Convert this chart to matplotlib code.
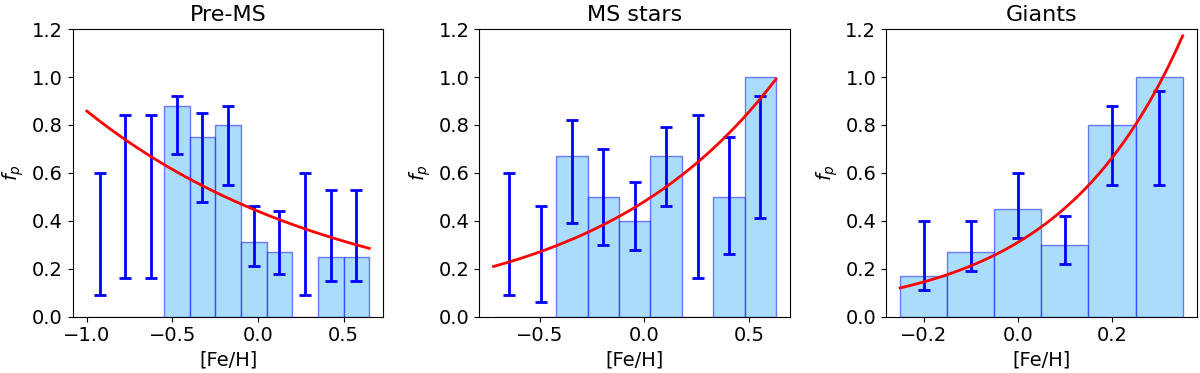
import numpy as np
import matplotlib.pyplot as plt
from matplotlib.colors import to_rgba

# Pre-MS
pms_edges = [-1.0, -0.85, -0.7, -0.55, -0.4, -0.25, -0.1, 0.05, 0.2, 0.35, 0.5, 0.65]
pms_frac = [0, 0, 0, 0.88, 0.75, 0.80, 0.31, 0.27, 0, 0.25, 0.25]
pms_lo = [0.09, 0.16, 0.16, 0.68, 0.48, 0.55, 0.21, 0.18, 0.09, 0.15, 0.15]
pms_hi = [0.60, 0.84, 0.84, 0.92, 0.85, 0.88, 0.46, 0.44, 0.60, 0.53, 0.53]
pms_fit = (0.44, -0.29)   # C, beta in f = C * 10**(beta*[Fe/H])

# MS stars
ms_edges = [-0.72, -0.57, -0.42, -0.27, -0.12, 0.03, 0.18, 0.33, 0.48, 0.63]
ms_frac = [0, 0, 0.67, 0.50, 0.40, 0.67, 0, 0.50, 1.00]
ms_lo = [0.09, 0.06, 0.39, 0.30, 0.28, 0.46, 0.16, 0.26, 0.41]
ms_hi = [0.60, 0.46, 0.82, 0.70, 0.56, 0.79, 0.84, 0.75, 0.92]
ms_fit = (0.48, 0.50)

# Giants
gi_edges = [-0.25, -0.15, -0.05, 0.05, 0.15, 0.25, 0.35]
gi_frac = [0.17, 0.27, 0.45, 0.30, 0.80, 1.00]
gi_lo = [0.11, 0.19, 0.33, 0.22, 0.55, 0.55]
gi_hi = [0.40, 0.40, 0.60, 0.42, 0.88, 0.94]
gi_fit = (0.31, 1.65)

titles = ['Pre-MS', 'MS stars', 'Giants']
xticks = [[-1.0, -0.5, 0.0, 0.5], [-0.5, 0.0, 0.5], [-0.2, 0.0, 0.2]]

panels = [
    (pms_edges, pms_frac, pms_lo, pms_hi, pms_fit),
    (ms_edges, ms_frac, ms_lo, ms_hi, ms_fit),
    (gi_edges, gi_frac, gi_lo, gi_hi, gi_fit),
]

f, axes = plt.subplots(1, 3, figsize=(12, 3.73), dpi=100)
f.subplots_adjust(left=0.0606, right=0.9973, bottom=0.151, top=0.922, wspace=0.309)

for ax, (edges, frac, lo, hi, fit), title, ticks in zip(axes, panels, titles, xticks):
    edges = np.array(edges)
    width = np.diff(edges)
    centers = edges[:-1] + width / 2
    frac = np.array(frac)
    ax.bar(centers, frac, width=width, color=to_rgba('lightskyblue', 0.7),
           edgecolor=to_rgba('blue', 0.5), linewidth=1)
    ax.errorbar(centers, (np.array(lo) + np.array(hi)) / 2,
                yerr=(np.array(hi) - np.array(lo)) / 2, fmt='none',
                ecolor='blue', elinewidth=2, capsize=4, capthick=2)
    xx = np.linspace(edges[0], edges[-1], 200)
    C, beta = fit
    ax.plot(xx, C * 10 ** (beta * xx), color='red', linewidth=2)
    ax.set_ylim(0, 1.2)
    ax.set_xticks(ticks)
    ax.tick_params(labelsize=14)
    ax.set_xlabel('[Fe/H]', fontsize=14)
    ax.set_ylabel('$f_p$', fontsize=14)
    ax.set_title(title, fontsize=16)

f.savefig('out.png')
